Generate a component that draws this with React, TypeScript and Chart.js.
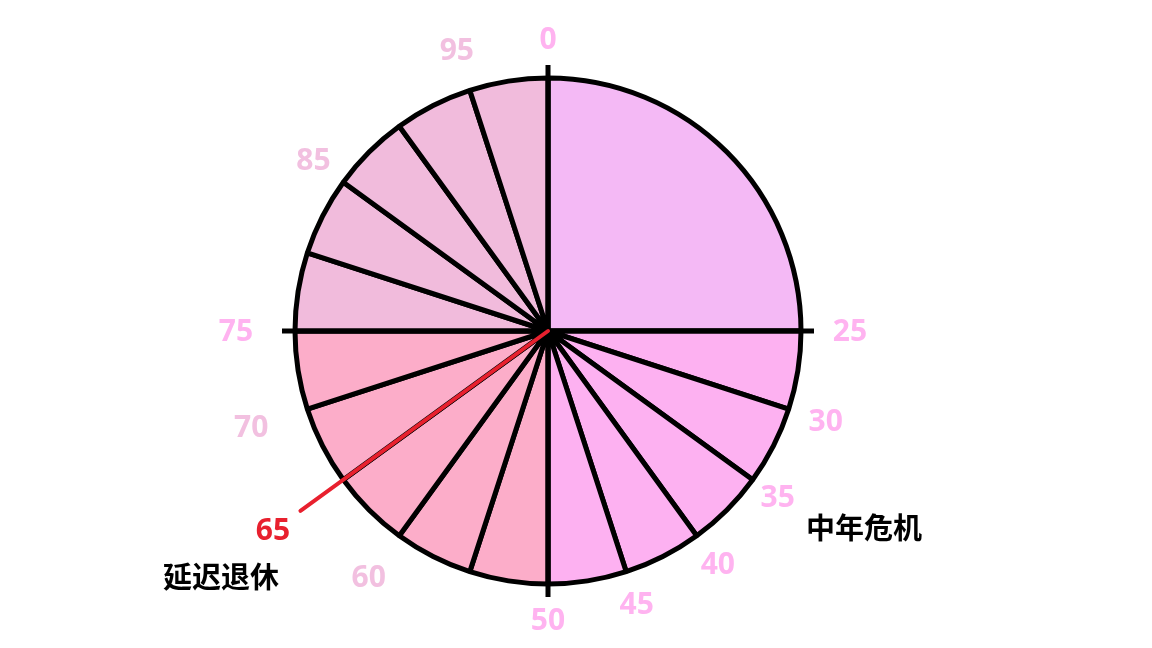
import React, { useEffect, useRef } from "react";
import { Chart, registerables } from "chart.js";

Chart.register(...registerables);

// Segment boundaries (age) and their sizes
const segmentStarts = [0, 25, 30, 35, 40, 45, 50, 55, 60, 65, 70, 75, 80, 85, 90, 95];
const segmentValues = [25, 5, 5, 5, 5, 5, 5, 5, 5, 5, 5, 5, 5, 5, 5, 5];
const segmentColors = [
  "#f4b9f5",
  "#fdb1f1", "#fdb1f1", "#fdb1f1", "#fdb1f1", "#fdb1f1",
  "#fcadc9", "#fcadc9", "#fcadc9", "#fcadc9", "#fcadc9",
  "#f1bbdc", "#f1bbdc", "#f1bbdc", "#f1bbdc", "#f1bbdc",
];

// Tick labels around the circle
const tickLabels = ["0", "25", "30", "35", "40", "45", "50", "60", "70", "75", "85", "95"];
const tickColors = ["#ffb3f0", "#ffb3f0", "#ffb3f0", "#ffb3f0", "#ffb3f0", "#ffb3f0", "#ffb3f0", "#f2c0e0", "#f2c0e0", "#ffb3f0", "#f2c0e0", "#f2c0e0"];
const tickRadius = [292, 302, 292, 284, 289, 287, 289, 305, 312, 312, 290, 295];

// Highlighted boundary
const highlightAge = "65";
const axisAges = ["0", "25", "50", "75"];

// Annotations
const annotationTexts = ["中年危机", "延迟退休"];

const TOTAL = 100;

function angleOf(age: number) {
  // Chart.js pie starts at -PI/2 (top), clockwise
  return -Math.PI / 2 + (age / TOTAL) * Math.PI * 2;
}

const overlayPlugin = {
  id: "overlay",
  afterDatasetsDraw(chart: any) {
    const ctx = chart.ctx;
    const arc = chart.getDatasetMeta(0).data[0];
    const cx = arc.x;
    const cy = arc.y;
    const r = arc.outerRadius;
    ctx.save();
    // axis ticks extending beyond the circle
    ctx.strokeStyle = "#000";
    ctx.lineWidth = 5;
    ctx.lineCap = "butt";
    axisAges.forEach((a) => {
      const ang = angleOf(Number(a));
      ctx.beginPath();
      ctx.moveTo(cx, cy);
      ctx.lineTo(cx + Math.cos(ang) * (r + 13), cy + Math.sin(ang) * (r + 13));
      ctx.stroke();
    });
    // red highlight line
    const ha = angleOf(Number(highlightAge));
    ctx.strokeStyle = "#e8202e";
    ctx.lineWidth = 4;
    ctx.lineCap = "round";
    ctx.beginPath();
    ctx.moveTo(cx, cy);
    ctx.lineTo(cx + Math.cos(ha) * 306, cy + Math.sin(ha) * 306);
    ctx.stroke();

    // tick labels
    ctx.textAlign = "center";
    ctx.textBaseline = "middle";
    ctx.font = "bold 30px 'Open Sans', 'Noto Sans', sans-serif";
    tickLabels.forEach((t, i) => {
      const ang = angleOf(Number(t));
      ctx.fillStyle = tickColors[i];
      ctx.fillText(t, cx + Math.cos(ang) * tickRadius[i], cy + Math.sin(ang) * tickRadius[i] + 1);
    });
    // highlighted label
    ctx.fillStyle = "#e8202e";
    ctx.fillText(highlightAge, cx + Math.cos(ha) * 340, cy + Math.sin(ha) * 340 + 1);

    // annotations
    ctx.fillStyle = "#000";
    ctx.font = "bold 29px 'Noto Sans CJK SC', sans-serif";
    ctx.fillText(annotationTexts[0], 864, 528);
    ctx.fillText(annotationTexts[1], 221, 577);
    ctx.restore();
  },
};

export default function App() {
  const ref = useRef<HTMLCanvasElement>(null);
  useEffect(() => {
    document.body.style.margin = "0";
    const chart = new Chart(ref.current!, {
      type: "pie",
      data: {
        labels: segmentStarts.map(String),
        datasets: [
          {
            data: segmentValues,
            backgroundColor: segmentColors,
            borderColor: "#000",
            borderWidth: 5,
            borderAlign: "center",
          },
        ],
      },
      options: {
        responsive: false,
        animation: false,
        radius: 253,
        layout: { padding: { left: 0, right: 56, top: 14, bottom: 0 } },
        plugins: { legend: { display: false }, tooltip: { enabled: false } },
      } as any,
      plugins: [overlayPlugin],
    });
    return () => chart.destroy();
  }, []);
  return (
    <div style={{ width: 1152, height: 648, background: "#fff" }}>
      <canvas ref={ref} width={1152} height={648} />
    </div>
  );
}
